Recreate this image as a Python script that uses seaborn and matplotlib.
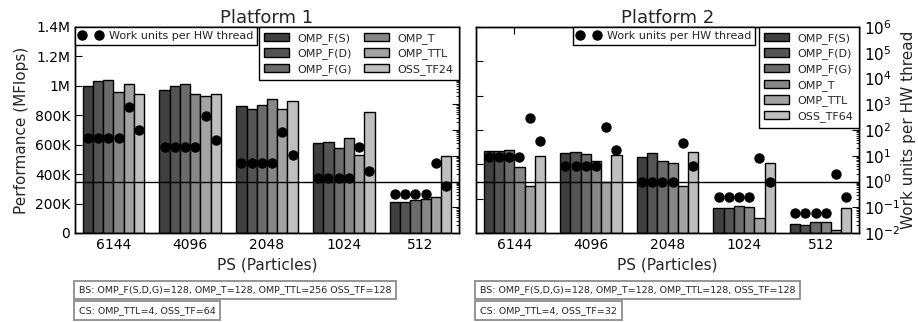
import numpy as np
import pandas as pd
import seaborn as sns
import matplotlib
matplotlib.use('Agg')
import matplotlib.pyplot as plt
from matplotlib.lines import Line2D
from matplotlib.ticker import LogLocator, NullFormatter

# --- data ---
ps_labels = ['6144', '4096', '2048', '1024', '512']
variants_p1 = ['OMP_F(S)', 'OMP_F(D)', 'OMP_F(G)', 'OMP_T', 'OMP_TTL', 'OSS_TF24']
variants_p2 = ['OMP_F(S)', 'OMP_F(D)', 'OMP_F(G)', 'OMP_T', 'OMP_TTL', 'OSS_TF64']
grays = ['0.25', '0.33', '0.42', '0.53', '0.64', '0.75']

# performance (MFlops), platform 1
p1_fs = [1000e3, 975e3, 866e3, 610e3, 214e3]
p1_fd = [1035e3, 1000e3, 845e3, 616e3, 214e3]
p1_fg = [1037e3, 1012e3, 873e3, 575e3, 221e3]
p1_t = [955e3, 944e3, 914e3, 646e3, 230e3]
p1_ttl = [1012e3, 932e3, 845e3, 532e3, 243e3]
p1_oss = [945e3, 944e3, 896e3, 825e3, 523e3]

# performance (MFlops), platform 2
p2_fs = [480e3, 464e3, 444e3, 148e3, 51e3]
p2_fd = [480e3, 472e3, 466e3, 148e3, 45e3]
p2_fg = [482e3, 458e3, 417e3, 160e3, 63e3]
p2_t = [386e3, 419e3, 408e3, 152e3, 63e3]
p2_ttl = [275e3, 295e3, 273e3, 88e3, 20e3]
p2_oss = [447e3, 454e3, 474e3, 409e3, 146e3]

# work units per HW thread
p1_wu_omp = [48, 21.3, 5.33, 1.33, 0.333]
p1_wu_ttl = [768, 341, 85.3, 21.3, 5.33]
p1_wu_oss = [96, 42.7, 10.7, 2.67, 0.667]
p2_wu_omp = [9, 4, 1, 0.25, 0.0625]
p2_wu_ttl = [288, 128, 32, 8, 2]
p2_wu_oss = [36, 16, 4, 1, 0.25]

perf_ticks_p1 = [0, 200e3, 400e3, 600e3, 800e3, 1000e3, 1200e3, 1400e3]
perf_labels_p1 = ['0', '200K', '400K', '600K', '800K', '1M', '1.2M', '1.4M']
perf_ticks_p2 = [0, 200e3, 400e3, 600e3, 800e3, 1000e3, 1200e3]

notes_p1 = ['BS: OMP_F(S,D,G)=128, OMP_T=128, OMP_TTL=256 OSS_TF=128',
            'CS: OMP_TTL=4, OSS_TF=64']
notes_p2 = ['BS: OMP_F(S,D,G)=128, OMP_T=128, OMP_TTL=128, OSS_TF=128',
            'CS: OMP_TTL=4, OSS_TF=32']

sns.set_style('ticks', {'xtick.direction': 'in', 'ytick.direction': 'in',
                        'axes.edgecolor': 'black', 'xtick.color': 'black',
                        'ytick.color': 'black'})
plt.rcParams['font.family'] = ['DejaVu Sans']
plt.rcParams['xtick.top'] = True
plt.rcParams['axes.linewidth'] = 1.0


def make_df(variants, series):
    rows = []
    for v, vals in zip(variants, series):
        for ps, val in zip(ps_labels, vals):
            rows.append({'PS': ps, 'variant': v, 'perf': val})
    return pd.DataFrame(rows)


def draw_panel(ax, variants, series, wu, title, ylim, yticks, ncol, dot_loc, dot_anchor):
    df = make_df(variants, series)
    sns.barplot(data=df, x='PS', y='perf', hue='variant', order=ps_labels,
                hue_order=variants, palette=grays, edgecolor='black',
                linewidth=1.0, saturation=1, ax=ax, legend=True)
    handles, labels = ax.get_legend_handles_labels()
    ax.get_legend().remove()
    ax.set_xlim(-0.5, 4.5)
    ax.set_ylim(*ylim)
    ax.set_yticks(yticks)
    ax.tick_params(axis='y', right=False, labelsize=10, length=5)
    ax.tick_params(axis='x', labelsize=10, length=5, top=True)
    ax.set_xlabel('PS (Particles)', fontsize=11)
    ax.set_ylabel('')
    ax.set_title(title, fontsize=13, pad=3)

    tw = ax.twinx()
    tw.set_yscale('log')
    tw.set_ylim(1e-2, 1e6)
    tw.yaxis.set_major_locator(LogLocator(base=10, numticks=20))
    tw.yaxis.set_minor_locator(LogLocator(base=10, subs=np.arange(2, 10), numticks=20))
    tw.tick_params(axis='y', which='major', direction='in', length=5, labelsize=11)
    tw.tick_params(axis='y', which='minor', direction='in', length=2.5)
    tw.axhline(1, color='black', lw=1.0)
    for cont, vals in zip(ax.containers, wu):
        xs = [p.get_x() + p.get_width() / 2 for p in cont.patches]
        tw.scatter(xs, vals, s=42, color='black', zorder=5)
    tw.set_xlim(-0.5, 4.5)

    dot_h = Line2D([], [], marker='o', color='black', linestyle='none', markersize=6.5)
    leg1 = tw.legend([dot_h], ['Work units per HW thread'], numpoints=2,
                     loc=dot_loc, bbox_to_anchor=dot_anchor, borderaxespad=0,
                     fontsize=8, fancybox=False, framealpha=1, edgecolor='black',
                     handlelength=2.1, handletextpad=0.6, borderpad=0.35)
    leg1.get_frame().set_linewidth(1.0)
    tw.add_artist(leg1)
    leg2 = tw.legend(handles, labels, ncol=ncol, loc='upper right',
                     borderaxespad=0, fontsize=8, fancybox=False, framealpha=1,
                     edgecolor='black', handlelength=2.2, handleheight=0.8,
                     columnspacing=1.1, labelspacing=0.42, borderpad=0.5,
                     handletextpad=0.8)
    leg2.get_frame().set_linewidth(1.0)
    return tw


fig = plt.figure(figsize=(9.18, 3.22), dpi=100)
ax1 = fig.add_axes([75 / 918, 89 / 322, 384 / 918, 206 / 322])
ax2 = fig.add_axes([476 / 918, 89 / 322, 383 / 918, 206 / 322])

tw1 = draw_panel(ax1, variants_p1, [p1_fs, p1_fd, p1_fg, p1_t, p1_ttl, p1_oss],
                 [p1_wu_omp] * 4 + [p1_wu_ttl, p1_wu_oss], 'Platform 1',
                 (0, 1400e3), perf_ticks_p1, 2, 'upper left', (0.0, 1.0))
ax1.set_yticklabels(perf_labels_p1)
ax1.set_ylabel('Performance (MFlops)', fontsize=11)
tw1.yaxis.set_major_formatter(NullFormatter())
tw1.yaxis.set_minor_formatter(NullFormatter())

tw2 = draw_panel(ax2, variants_p2, [p2_fs, p2_fd, p2_fg, p2_t, p2_ttl, p2_oss],
                 [p2_wu_omp] * 4 + [p2_wu_ttl, p2_wu_oss], 'Platform 2',
                 (0, 1200e3), perf_ticks_p2, 1, 'upper right', (0.7285, 1.0))
ax2.set_yticklabels([])
tw2.set_ylabel('Work units per HW thread', fontsize=11, labelpad=1)

box = dict(boxstyle='square,pad=0.5', facecolor='white', edgecolor='0.55', linewidth=1.3)
for x0, notes in [(79, notes_p1), (480, notes_p2)]:
    fig.text(x0 / 918, 1 - 290 / 322, notes[0], fontsize=6.8, ha='left', va='center', bbox=box)
    fig.text(x0 / 918, 1 - 310.5 / 322, notes[1], fontsize=6.8, ha='left', va='center', bbox=box)

fig.savefig('out.png', dpi=100)
